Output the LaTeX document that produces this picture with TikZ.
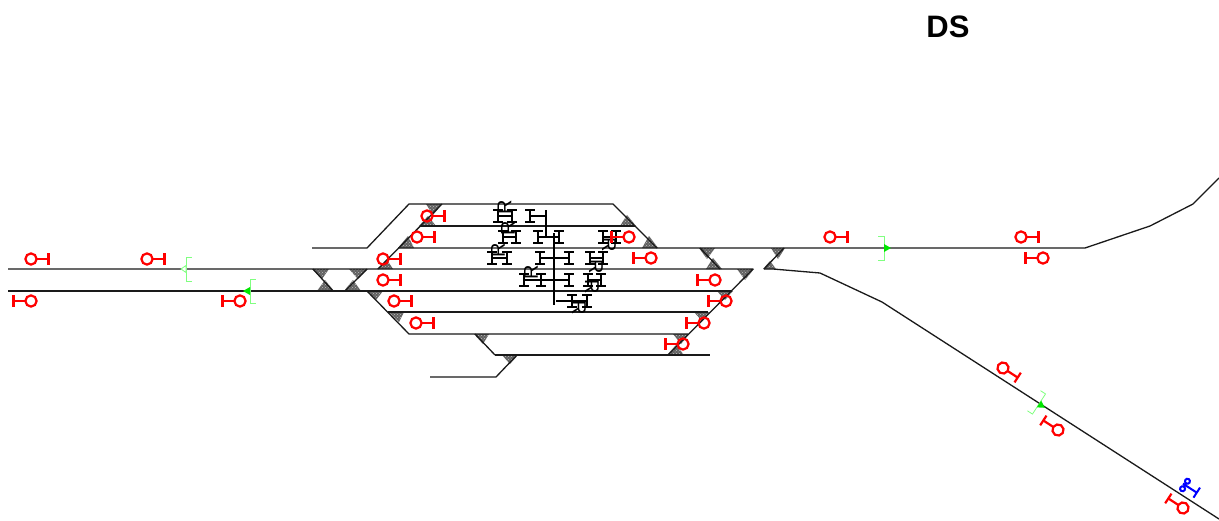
\documentclass[tikz,border=0pt]{standalone}
\usepackage{fontspec}
\usetikzlibrary{patterns}
\setmainfont{Liberation Sans}
\definecolor{trackcol}{HTML}{1A1A1A}
\definecolor{sigred}{HTML}{FF0000}
\definecolor{brk}{HTML}{80FF80}
\definecolor{arr}{HTML}{00E600}
\tikzset{
  track/.style={draw=trackcol,line width=1.3pt,line join=round},
  shade tri/.style={fill=black!62,draw=none},
  shade dots/.style={pattern=crosshatch dots,pattern color=white!75!black,draw=none},
  sigline/.style={draw=sigred,line width=2.2pt},
  bar mark/.style={draw=black,line width=2.2pt},
  rlabel/.style={inner sep=0pt,font=\fontsize{20}{20}\selectfont,text=black},
  pics/sig/.style={code={
    \draw[sigline] (0,0) circle[radius=5.6];
    \draw[sigline] (5.6,0) -- (17.5,0) (17.5,-5.8) -- (17.5,5.8);
  }},
  pics/shunt/.style={code={
    \draw[draw=blue,line width=2pt] (0,-4.5) circle[radius=2.5] (0,4.5) circle[radius=2.5]
      (-2.5,0) -- (14,0) (14,-6) -- (14,6);
  }},
  pics/ibar/.style={code={
    \draw[bar mark] (0,-6) -- (0,6) (-5,-6) -- (5,-6) (-5,6) -- (5,6);
  }},
  pics/gate/.style={code={
    \draw[draw=brk,line width=0.8pt] (-6,-12) -- (0,-12) -- (0,12) -- (-6,12);
    \fill[arr] (0,-4) -- (7,0) -- (0,4) -- cycle;
  }},
  pics/gate open/.style={code={
    \draw[draw=brk,line width=0.8pt] (-6,-12) -- (0,-12) -- (0,12) -- (-6,12);
    \draw[draw=brk,line width=0.8pt,fill=white] (0,-3.5) -- (5,0) -- (0,3.5) -- cycle;
  }},
}
\begin{document}
\begin{tikzpicture}[x=1pt,y=-1pt]
\useasboundingbox (0,0) rectangle (1219,520);
\fill[white] (0,0) rectangle (1219,520);

% shaded point triangles
\foreach \a/\b/\c/\d/\e/\f in {
  426/204/442/204/433/215, 419/226/436/226/428/216, 398/248/414/248/408/236,
  377/269/393/269/387/260, 312/269/329/269/322/279, 317/291/334/291/325/280,
  349/269/368/269/358/279, 344/291/361/291/353/280, 366/291/383/291/376/300,
  389/312/404/312/399/322, 474/334/489/334/483/344, 502/355/518/355/510/364,
  620/226/636/226/627/215, 642/248/658/248/649/236, 699/248/715/248/707/259,
  706/269/722/269/713/258, 737/269/754/269/745/280, 771/248/785/248/778/259,
  763/269/776/269/770/261, 717/291/733/291/725/300, 694/312/710/312/702/321,
  673/334/689/334/681/344, 667/355/684/355/676/345}
  {\fill[shade tri] (\a,\b) -- (\c,\d) -- (\e,\f) -- cycle;
   \fill[shade dots] (\a,\b) -- (\c,\d) -- (\e,\f) -- cycle;}

% tracks
\draw[track] (312,248) -- (367,248) -- (409,204) -- (613,204) -- (657,248);
\draw[track] (398,248) -- (1085,248) -- (1150,226) -- (1193,204) -- (1219,178);
\draw[track] (420,226) -- (635,226);
\draw[track] (442,204) -- (378,269);
\draw[track] (8,269) -- (753,269) -- (668,355);
\draw[track] (8,291) -- (732,291);
\draw[track] (367,291) -- (409,334) -- (688,334);
\draw[track] (388,312) -- (708,312);
\draw[track] (475,334) -- (495,355);
\draw[track] (495,355) -- (710,355);
\draw[track] (430,377) -- (496,377) -- (517,355);
\draw[track] (313,269) -- (333,291);
\draw[track] (367,269) -- (345,291);
\draw[track] (700,248) -- (720,269);
\draw[track] (784,248) -- (764,269);
\draw[track] (764,269) -- (773,269) -- (820,273) -- (882,302) -- (1219,519);

% route indicator stems
\draw[bar mark] (546,210) -- (546,238) (554,233) -- (554,305);
\draw[bar mark] (530,216) -- (546,216);
\draw[bar mark] (498,216) -- (512,216) (503,237) -- (516,237);
\draw[bar mark] (538,237) -- (559,237);
\draw[bar mark] (492,258) -- (507,258) (540,258) -- (569,258);
\draw[bar mark] (524,280) -- (569,280);
\draw[bar mark] (556,301) -- (587,301);
\draw[bar mark] (603,237) -- (616,237) (590,258) -- (603,258) (588,280) -- (601,280);

\foreach \x/\y in {530/216,498/216,512/216,503/237,516/237,538/237,559/237,
   492/258,507/258,540/258,569/258,524/280,541/280,569/280,572/301,587/301,
   603/237,616/237,590/258,603/258,588/280,601/280}
  \pic at (\x,\y) {ibar};

\node[rlabel,rotate=90] (rA) at (504.5,207) {R};
\node[rlabel,rotate=90] (rB) at (508,228) {R};
\node[rlabel,rotate=90] (rC) at (498,250) {R};
\node[rlabel,rotate=90] (rD) at (531,272) {R};
\node[rlabel,rotate=-90] (rE) at (579,308) {R};
\node[rlabel,rotate=-90] (rF) at (609,245) {R};
\node[rlabel,rotate=-90] (rG) at (596,267) {R};
\node[rlabel,rotate=-90] (rH) at (592,287) {R};

% signals
\foreach \x/\y in {427/216,417/237,383/259,383/280,394/301,416/323,31/259,147/259,830/237,1021/237}
  \pic at (\x,\y) {sig};
\foreach \x/\y in {629/237,651/258,715/280,726/301,704/323,683/344,31/301,240/301,1043/258}
  \pic[rotate=180] at (\x,\y) {sig};
\pic[rotate=-33] at (1003,368) {sig};
\pic[rotate=147] at (1058,430) {sig};
\pic[rotate=147] at (1183,508) {sig};
\pic[rotate=-33] at (1185,485) {shunt};

% gates
\pic[rotate=180] at (186,269) {gate open};
\pic[rotate=180] at (250,291) {gate};
\pic at (884,248) {gate};
\pic[rotate=-33] at (1039,404) {gate};

\node[inner sep=0pt,font=\fontsize{31}{31}\selectfont\bfseries] (title) at (948,27) {DS};
\end{tikzpicture}
\end{document}
